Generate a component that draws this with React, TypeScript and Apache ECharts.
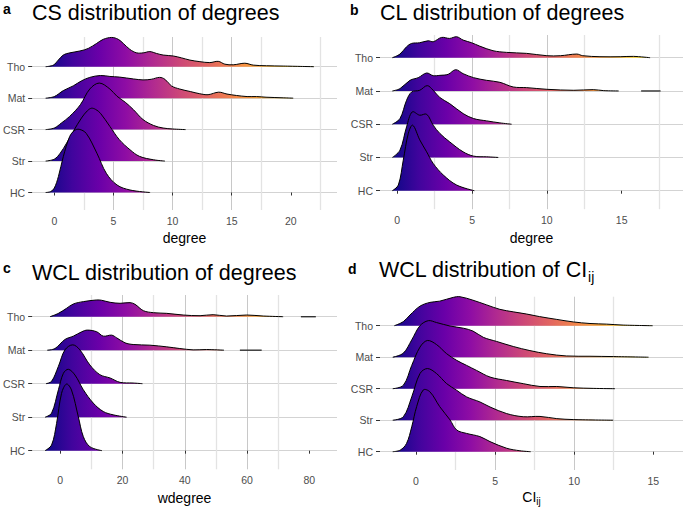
import React, { useEffect, useRef } from 'react';
import * as echarts from 'echarts';

type Pt = [number, number];

// Categories (bottom to top)
const CATEGORIES = ['HC', 'Str', 'CSR', 'Mat', 'Tho'];

// ---- Panel a: CS degree (x, scaled density height in row units)
const CS_HC: Pt[] = [[-0.73,0],[-0.3,0.03],[0,0.14],[0.35,0.51],[0.76,1.14],[1.3,1.78],[1.7,1.97],[2.1,2.01],[2.7,1.88],[3.6,1.25],[4.4,0.61],[5.3,0.24],[6.4,0.08],[8.1,0]];
const CS_STR: Pt[] = [[-0.73,0],[0,0.06],[0.5,0.25],[1.04,0.57],[1.6,0.94],[2.3,1.37],[2.8,1.6],[3.15,1.68],[3.5,1.64],[3.9,1.52],[4.7,1.1],[5.5,0.68],[6.4,0.36],[7.2,0.15],[8.4,0.04],[9.35,0]];
const CS_CSR: Pt[] = [[-0.73,0],[0,0.05],[0.6,0.21],[1.3,0.42],[2.2,0.79],[3,1.29],[3.8,1.48],[4.7,1.29],[5.3,1.06],[6,0.87],[6.7,0.63],[7.5,0.32],[8.4,0.13],[9.2,0.05],[10,0.02],[11.1,0]];
const CS_MAT: Pt[] = [[-0.73,0],[0,0.05],[0.76,0.24],[1.6,0.39],[2.3,0.55],[3,0.66],[3.9,0.72],[4.7,0.69],[5.5,0.67],[6.7,0.61],[7.5,0.58],[8.2,0.6],[8.9,0.66],[9.35,0.6],[9.9,0.39],[10.6,0.29],[11.5,0.21],[12.3,0.14],[13,0.11],[13.9,0.19],[14.6,0.13],[15.4,0.085],[16.3,0.05],[17.1,0.05],[17.9,0.03],[19.4,0.01],[20.2,0]];
const CS_THO: Pt[] = [[-0.73,0],[-0.08,0.05],[0.34,0.21],[0.76,0.37],[1.32,0.44],[2.17,0.5],[2.87,0.58],[3.58,0.74],[4.14,0.87],[4.85,0.93],[5.41,0.87],[5.83,0.74],[6.39,0.55],[6.96,0.44],[7.52,0.44],[8.08,0.48],[8.65,0.42],[9.21,0.37],[10.06,0.34],[10.76,0.28],[11.46,0.21],[12.31,0.16],[13.15,0.13],[13.86,0.17],[14.42,0.08],[15.13,0.06],[16.11,0.11],[16.82,0.05],[17.94,0.03],[19.35,0.02],[21.95,0]];

// ---- Panel b: CL degree
const CL_HC: Pt[] = [[-0.33,0],[0.07,0.17],[0.4,0.92],[0.74,1.73],[1.03,1.97],[1.5,1.53],[1.96,1.17],[2.4,0.82],[3.08,0.47],[3.97,0.17],[5.15,0]];
const CL_STR: Pt[] = [[-0.33,0],[0.18,0.22],[0.62,0.92],[1.0,1.37],[1.5,1.27],[1.96,1.3],[2.4,0.97],[2.85,0.72],[3.5,0.47],[4.4,0.17],[5.1,0.04],[5.97,0.02],[6.75,0]];
const CL_CSR: Pt[] = [[-0.33,0],[0.18,0.17],[0.62,0.72],[0.96,0.97],[1.5,1.02],[2.0,1.16],[2.4,1.02],[2.85,0.8],[3.5,0.62],[4.4,0.32],[5.1,0.17],[5.97,0.1],[6.86,0.04],[7.64,0]];
const CL_MAT: Pt[] = [[-0.33,0],[0.18,0.07],[0.85,0.32],[1.4,0.4],[1.96,0.54],[2.4,0.46],[2.85,0.47],[3.4,0.5],[3.9,0.64],[4.4,0.52],[5.1,0.4],[5.97,0.32],[6.86,0.26],[7.75,0.12],[8.65,0.1],[10,0.05],[11.8,0.02],[13.1,0.04],[13.8,0.01],[14.8,0]];
const CL_MAT_TAIL: Pt[] = [[16.3,0],[17.6,0]];
const CL_THO: Pt[] = [[-0.33,0],[0.18,0.11],[0.62,0.33],[0.96,0.43],[1.5,0.45],[2.07,0.51],[2.4,0.48],[2.96,0.61],[3.5,0.58],[3.97,0.63],[4.4,0.53],[4.97,0.45],[5.5,0.35],[6.4,0.21],[7.3,0.16],[8.65,0.13],[10,0.06],[10.9,0.06],[12,0.11],[12.4,0.06],[13.55,0.03],[14.9,0.03],[15.8,0.04],[16.9,0]];

// ---- Panel c: WCL weighted degree
const WCL_HC: Pt[] = [[-4.9,0],[-2.8,0.17],[-1.2,0.81],[0.4,1.71],[2,1.99],[3.6,1.81],[5.8,1.01],[7.4,0.42],[9.5,0.12],[13.4,0]];
const WCL_STR: Pt[] = [[-4.9,0],[-2.8,0.12],[-0.6,0.82],[1,1.31],[2.6,1.43],[4.7,1.26],[7.4,0.82],[10.6,0.42],[13.8,0.17],[17,0.07],[21.3,0]];
const WCL_CSR: Pt[] = [[-4.6,0],[-2.8,0.07],[-0.6,0.52],[1.5,1.01],[4,1.16],[6.3,1.01],[9.5,0.56],[12.7,0.27],[16,0.17],[19.2,0.04],[23.4,0.02],[26.4,0]];
const WCL_MAT: Pt[] = [[-4.2,0],[-1.7,0.05],[1.5,0.32],[4.2,0.42],[6.9,0.55],[8.7,0.6],[11.7,0.55],[13.8,0.42],[16.5,0.45],[18.1,0.37],[20.8,0.22],[23.4,0.17],[28.8,0.15],[34.2,0.1],[38.4,0.05],[42.7,0.01],[47,0.02],[52.6,0]];
const WCL_MAT_TAIL: Pt[] = [[57.7,0],[64.7,0]];
const WCL_THO: Pt[] = [[-3.3,0],[-0.6,0.1],[2,0.25],[4.2,0.38],[7.4,0.45],[11.7,0.5],[13.3,0.49],[16,0.43],[19.2,0.4],[22.4,0.42],[24,0.37],[26.7,0.18],[29.9,0.12],[34.2,0.1],[39.5,0.05],[44.9,0.03],[49.1,0.06],[53.4,0.02],[59.9,0.05],[65.2,0.02],[71.6,0]];
const WCL_THO_TAIL: Pt[] = [[77.3,0],[82.1,0]];

// ---- Panel d: WCL CI_ij
const CI_HC: Pt[] = [[-1.47,0],[-1.0,0.05],[-0.6,0.26],[-0.27,0.79],[0.04,1.43],[0.46,1.96],[0.88,1.9],[1.5,1.43],[2.15,1.01],[2.57,0.69],[3.2,0.58],[4.04,0.48],[4.68,0.32],[5.73,0.11],[6.57,0.03],[7.25,0]];
const CI_STR: Pt[] = [[-1.47,0],[-0.8,0.11],[-0.27,0.74],[0.25,1.48],[0.72,1.64],[1.3,1.48],[1.94,1.16],[2.57,0.95],[3.2,0.74],[4.04,0.58],[4.68,0.42],[5.73,0.21],[6.78,0.11],[7.84,0.12],[8.9,0.05],[9.94,0.02],[12.47,0]];
const CI_CSR: Pt[] = [[-1.47,0],[-0.8,0.11],[-0.27,0.74],[0.25,1.32],[0.72,1.53],[1.3,1.4],[1.94,1.11],[2.57,0.9],[3.2,0.74],[3.83,0.58],[4.68,0.37],[5.73,0.26],[6.78,0.16],[7.84,0.07],[8.9,0.07],[9.94,0.03],[11.2,0.01],[12.58,0]];
const CI_MAT: Pt[] = [[-1.47,0],[-0.8,0.13],[-0.27,0.55],[0.25,1.0],[0.78,1.16],[1.3,1.1],[2.15,0.99],[3,0.92],[3.6,0.83],[4.26,0.63],[5.1,0.5],[6.15,0.34],[7.2,0.21],[8.26,0.11],[9.5,0.04],[11,0.03],[12.5,0.02],[14.7,0]];
const CI_THO: Pt[] = [[-1.37,0],[-0.8,0.13],[-0.38,0.34],[0.25,0.62],[0.88,0.74],[1.5,0.78],[2.36,0.9],[2.78,0.92],[3.6,0.81],[4.47,0.66],[5.3,0.52],[6.15,0.44],[7,0.37],[7.8,0.29],[8.9,0.2],[9.94,0.12],[11,0.07],[12.05,0.05],[13.1,0.02],[14.96,0]];

// Tick labels
const TICKS_A = [0, 5, 10, 15, 20];
const TICKS_B = [0, 5, 10, 15];
const TICKS_C = [0, 20, 40, 60, 80];
const TICKS_D = [0, 5, 10, 15];

const PLASMA = ['#0D0887','#41049D','#6A00A8','#8F0DA4','#B12A90','#CC4778','#E16462','#F2844B','#FCA636','#FCCE25','#F0F921'];

const FONT = '"Liberation Sans", Arial, Helvetica, sans-serif';

interface Panel {
  letter: string; letterX: number; letterY: number;
  title: string; rich?: boolean; titleX: number; titleY: number;
  xName: string; nameGap: number; nameRich?: boolean;
  ridges: Pt[][]; tails: Pt[][][];
  xMin: number; xMax: number; yMin: number; yMax: number;
  ticks: number[]; interval: number;
  grid: { left: number; right: number; top: number; bottom: number };
  cat: { top: number; bottom: number };
}

const PANELS: Panel[] = [
  {
    letter: 'a', letterX: 3, letterY: 9.3, title: 'CS distribution of degrees', titleX: 32, titleY: 13.2,
    xName: 'degree', nameGap: 28,
    ridges: [CS_HC, CS_STR, CS_CSR, CS_MAT, CS_THO], tails: [[], [], [], [], []],
    xMin: -1.885, xMax: 23.9, yMin: -0.556, yMax: 4.944, ticks: TICKS_A, interval: 5,
    grid: { left: 32, right: 348, top: 37, bottom: 298 }, cat: { top: 66.7, bottom: 315.5 },
  },
  {
    letter: 'b', letterX: 350, letterY: 10.1, title: 'CL distribution of degrees', titleX: 380, titleY: 13.2,
    xName: 'degree', nameGap: 29,
    ridges: [CL_HC, CL_STR, CL_CSR, CL_MAT, CL_THO], tails: [[], [], [], [CL_MAT_TAIL], []],
    xMin: -1.156, xMax: 19.1, yMin: -0.556, yMax: 4.683, ticks: TICKS_B, interval: 5,
    grid: { left: 380, right: 2, top: 35, bottom: 298.8 }, cat: { top: 57.7, bottom: 317.3 },
  },
  {
    letter: 'c', letterX: 3, letterY: 267.8, title: 'WCL distribution of degrees', titleX: 32, titleY: 273.2,
    xName: 'wdegree', nameGap: 29,
    ridges: [WCL_HC, WCL_STR, WCL_CSR, WCL_MAT, WCL_THO], tails: [[], [], [], [WCL_MAT_TAIL], [WCL_THO_TAIL]],
    xMin: -9.09, xMax: 88.9, yMin: -0.556, yMax: 4.648, ticks: TICKS_C, interval: 20,
    grid: { left: 32, right: 348, top: 295, bottom: 38.7 }, cat: { top: 316.7, bottom: 57.3 },
  },
  {
    letter: 'd', letterX: 348, letterY: 269.1, title: '{m|WCL distribution of CI}{s|ij}', rich: true, titleX: 379, titleY: 270.2,
    xName: '{m|CI}{s|ij}', nameGap: 26.8, nameRich: true,
    ridges: [CI_HC, CI_STR, CI_CSR, CI_MAT, CI_THO], tails: [[], [], [], [], []],
    xMin: -2.276, xMax: 16.88, yMin: -0.581, yMax: 4.921, ticks: TICKS_D, interval: 5,
    grid: { left: 380, right: 2, top: 296.7, bottom: 38 }, cat: { top: 325.7, bottom: 56.3 },
  },
];

function buildOption() {
  const grid: any[] = [];
  const xAxis: any[] = [];
  const yAxis: any[] = [];
  const series: any[] = [];
  const graphic: any[] = [];

  PANELS.forEach((p, i) => {
    const gMain = i * 2;
    const gCat = i * 2 + 1;
    grid.push({ ...p.grid, containLabel: false });
    grid.push({ left: p.grid.left, right: p.grid.right, top: p.cat.top, bottom: p.cat.bottom, containLabel: false });

    xAxis.push({
      type: 'value', gridIndex: gMain, min: p.xMin, max: p.xMax,
      minInterval: p.interval, maxInterval: p.interval,
      axisLine: { show: false },
      axisTick: { show: true, length: 3, customValues: p.ticks, lineStyle: { color: '#333333', width: 1 } },
      axisLabel: { customValues: p.ticks, color: '#4D4D4D', fontSize: 10.5, fontFamily: FONT, margin: 5.5 },
      splitLine: { show: true, showMinLine: false, showMaxLine: false, lineStyle: { color: '#C8C8C8', width: 1 } },
      minorTick: { show: false, splitNumber: 2 },
      minorSplitLine: { show: true, lineStyle: { color: '#E3E3E3', width: 1.3 } },
      name: p.xName, nameLocation: 'middle', nameGap: p.nameGap,
      nameTextStyle: p.nameRich
        ? {
            verticalAlign: 'middle',
            rich: {
              m: { fontSize: 14, fontFamily: FONT, color: '#000', lineHeight: 20 },
              s: { fontSize: 10, fontFamily: FONT, color: '#000', lineHeight: 10, verticalAlign: 'bottom' },
            },
          }
        : { fontSize: 14, fontFamily: FONT, color: '#000', verticalAlign: 'middle' },
    });
    yAxis.push({ type: 'value', gridIndex: gMain, min: p.yMin, max: p.yMax, show: false });

    xAxis.push({ type: 'value', gridIndex: gCat, min: 0, max: 1, show: false });
    yAxis.push({
      type: 'category', gridIndex: gCat, data: CATEGORIES, boundaryGap: false,
      axisLine: { show: false },
      axisTick: { show: true, length: 4, interval: 0, lineStyle: { color: '#333333', width: 1 } },
      axisLabel: { interval: 0, margin: 7, color: '#4D4D4D', fontSize: 10.5, fontFamily: FONT },
      splitLine: { show: true, interval: 0, lineStyle: { color: '#D3D3D3', width: 1.2 } },
    });

    const allX: number[] = [];
    p.ridges.forEach((r) => r.forEach((pt) => allX.push(pt[0])));
    p.tails.forEach((ts) => ts.forEach((t) => t.forEach((pt) => allX.push(pt[0]))));
    const cmin = Math.min(...allX);
    const cmax = Math.max(...allX);

    const data = CATEGORIES.map((_, k) => [0, CATEGORIES.length - 1 - k]);

    series.push({
      type: 'custom', coordinateSystem: 'cartesian2d', xAxisIndex: gMain, yAxisIndex: gMain,
      silent: true, clip: false, data,
      renderItem: (params: any, api: any) => {
        const cat = api.value(1) as number;
        const ridge = p.ridges[cat];
        const tails = p.tails[cat] || [];
        const x0 = api.coord([cmin, 0])[0];
        const x1 = api.coord([cmax, 0])[0];
        const grad = new echarts.graphic.LinearGradient(
          x0, 0, x1, 0,
          PLASMA.map((c, j) => ({ offset: j / (PLASMA.length - 1), color: c })),
          true
        );
        const pts = ridge.map(([x, h]) => api.coord([x, cat + h]));
        const zb = (CATEGORIES.length - cat) * 3;
        const children: any[] = [
          {
            type: 'polyline', z2: zb,
            shape: { points: pts, smooth: 0.35 },
            style: { fill: grad, stroke: '#000000', lineWidth: 1 },
          },
        ];
        tails.forEach((t) => {
          children.push({
            type: 'polyline', z2: zb + 1,
            shape: { points: t.map(([x, h]) => api.coord([x, cat + h])) },
            style: { fill: null, stroke: '#333333', lineWidth: 1.4 },
          });
        });
        return { type: 'group', children };
      },
    });

    graphic.push({
      type: 'text', x: p.letterX, y: p.letterY, silent: true,
      style: { text: p.letter, fontSize: 14, fontWeight: 'bold', fontFamily: FONT, fill: '#000', verticalAlign: 'middle', align: 'left' },
    });
    graphic.push({
      type: 'text', x: p.titleX, y: p.titleY, silent: true,
      style: p.rich
        ? {
            text: p.title, verticalAlign: 'middle', align: 'left',
            rich: {
              m: { fontSize: 21.5, fontFamily: FONT, fill: '#000', lineHeight: 28 },
              s: { fontSize: 14, fontFamily: FONT, fill: '#000', lineHeight: 14, verticalAlign: 'bottom' },
            },
          }
        : { text: p.title, fontSize: 21.5, fontFamily: FONT, fill: '#000', verticalAlign: 'middle', align: 'left' },
    });
  });

  return {
    animation: false,
    backgroundColor: '#ffffff',
    grid, xAxis, yAxis, series, graphic,
  };
}

export default function App() {
  const ref = useRef<HTMLDivElement>(null);
  useEffect(() => {
    if (!ref.current) return;
    const chart = echarts.init(ref.current, null, { renderer: 'svg' });
    chart.setOption(buildOption() as any);
    return () => chart.dispose();
  }, []);
  return <div ref={ref} style={{ position: 'absolute', left: 0, top: 0, width: 685, height: 508 }} />;
}
